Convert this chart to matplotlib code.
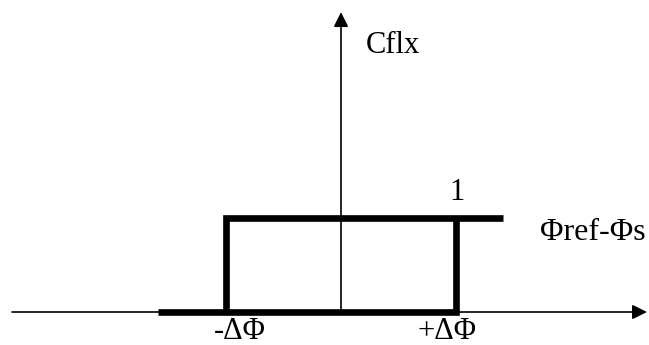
import matplotlib
matplotlib.use("Agg")
import matplotlib.pyplot as plt

plt.rcParams['font.family'] = ['Liberation Serif', 'DejaVu Serif']

# hysteresis branches of Cflx versus (Φref - Φs), threshold ΔΦ = 1
lower_x = [-1.59, 1.0, 1.0]
lower_y = [0.0, 0.0, 1.0]
upper_x = [1.41, -1.0, -1.0]
upper_y = [1.0, 1.0, 0.0]

delta_labels = ['-ΔΦ', '+ΔΦ']
delta_pos = [-0.88, 0.92]

fig = plt.figure(figsize=(6.49, 3.45), dpi=100)
ax = fig.add_axes([0, 0, 1, 1])
ax.set_xlim(-2.965, 2.678)
ax.set_ylim(-0.351, 3.319)
ax.axis('off')

# axes with arrows
ax.annotate('', xy=(2.66, 0), xytext=(-2.86, 0),
            arrowprops=dict(arrowstyle='-|>', color='black', lw=1.2,
                            mutation_scale=22, shrinkA=0, shrinkB=0))
ax.annotate('', xy=(0, 3.19), xytext=(0, 0),
            arrowprops=dict(arrowstyle='-|>', color='black', lw=1.2,
                            mutation_scale=22, shrinkA=0, shrinkB=0))

# hysteresis loop
ax.plot(lower_x, lower_y, color='black', lw=4.8, solid_capstyle='butt',
        solid_joinstyle='miter')
ax.plot(upper_x, upper_y, color='black', lw=4.8, solid_capstyle='butt',
        solid_joinstyle='miter')

ax.text(0.45, 2.83, 'Cflx', fontsize=22, ha='center', va='center')
ax.text(1.01, 1.27, '1', fontsize=22, ha='center', va='center')
ax.text(2.19, 0.85, 'Φref-Φs', fontsize=23, ha='center', va='center')
for lab, xp in zip(delta_labels, delta_pos):
    ax.text(xp, -0.285, lab, fontsize=22, ha='center', va='baseline')

fig.savefig('out.png', dpi=100)
